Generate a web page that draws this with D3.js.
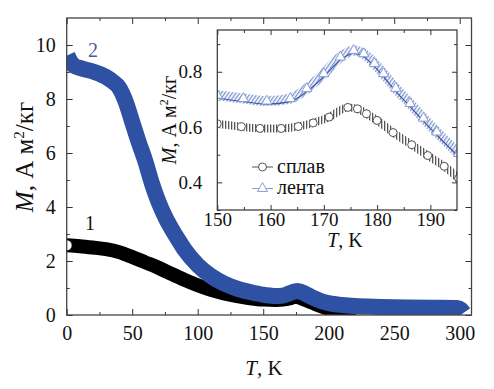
<!DOCTYPE html>
<html>
<head>
<meta charset="utf-8">
<script src="https://cdn.jsdelivr.net/npm/d3@7/dist/d3.min.js"></script>
<style>
  html, body { margin: 0; padding: 0; background: #fff; }
  svg { display: block; font-family: "Liberation Serif", "Times New Roman", serif; }
  .axis line { stroke: #333; stroke-width: 1; }
</style>
</head>
<body>
<svg id="chart" width="494" height="389"></svg>
<script>
// main plot: curve 1 (alloy, black) and curve 2 (ribbon, blue)
const mainT1 = [0, 10, 20, 30, 40, 50, 60, 70, 80, 90, 100, 110, 120, 130, 140, 150, 160, 165, 170, 174, 176, 180, 185, 190, 195, 200, 205, 210, 216];
const mainM1 = [2.58, 2.55, 2.5, 2.44, 2.33, 2.15, 1.95, 1.75, 1.52, 1.3, 1.1, 0.93, 0.8, 0.7, 0.62, 0.57, 0.56, 0.57, 0.61, 0.67, 0.66, 0.6, 0.5, 0.4, 0.31, 0.23, 0.16, 0.1, 0.06];

const mainT2 = [0.5, 3, 6, 10, 20, 30, 35, 40, 45, 50, 55, 60, 65, 70, 75, 80, 85, 90, 100, 110, 120, 130, 140, 150, 155, 160, 165, 170, 174, 176, 178, 182, 186, 190, 195, 200, 210, 220, 240, 260, 280, 298, 301, 303];
const mainM2 = [9.62, 9.38, 9.22, 9.15, 9.02, 8.82, 8.65, 8.42, 7.9, 7.15, 6.4, 5.7, 4.88, 4.2, 3.65, 3.2, 2.8, 2.42, 1.85, 1.45, 1.17, 0.98, 0.85, 0.75, 0.72, 0.7, 0.72, 0.8, 0.87, 0.89, 0.87, 0.79, 0.69, 0.6, 0.5, 0.44, 0.37, 0.33, 0.3, 0.28, 0.27, 0.26, 0.2, 0.08];

// inset, 150-195 K
const insetT1 = [150, 154.5, 158, 162, 165.2, 168, 171, 174.5, 176.3, 178, 180, 183, 186.5, 189.5, 192.6, 195.3];
const insetM1 = [0.612, 0.601, 0.595, 0.595, 0.602, 0.615, 0.636, 0.671, 0.666, 0.648, 0.624, 0.58, 0.536, 0.497, 0.458, 0.414];

const insetT2 = [150, 154.9, 159.3, 163.7, 166.8, 170, 173.1, 175.6, 177.5, 179.5, 181.2, 183.5, 186.2, 188.7, 191.2, 195.3];
const insetM2 = [0.715, 0.703, 0.694, 0.703, 0.739, 0.793, 0.853, 0.877, 0.865, 0.83, 0.793, 0.74, 0.685, 0.632, 0.582, 0.504];

const mainXTicks = [0, 50, 100, 150, 200, 250, 300];
const mainXMinor = [25, 75, 125, 175, 225, 275];
const mainYTicks = [0, 2, 4, 6, 8, 10];
const mainYMinor = [1, 3, 5, 7, 9];
const insetXTicks = [150, 160, 170, 180, 190];
const insetXMinor = [155, 165, 175, 185];
const insetYTicks = [0.4, 0.6, 0.8];
const insetYMinor = [0.3, 0.5, 0.7, 0.9];

const legendLabels = ['сплав', 'лента'];

const serif = '"Liberation Serif", "Times New Roman", serif';
const blue = '#2e51a4';
const svg = d3.select('#chart');
const defs = svg.append('defs');

// ---------- main plot ----------
const M = { left: 66.7, right: 471.5, top: 18, bottom: 315 };
const x = d3.scaleLinear().domain([0, 309]).range([M.left, M.right]);
const y = d3.scaleLinear().domain([0, 11]).range([M.bottom, M.top]);

defs.append('clipPath').attr('id', 'clipMain')
    .append('rect')
    .attr('x', M.left).attr('y', M.top)
    .attr('width', M.right - M.left).attr('height', M.bottom - M.top);

function addAxis(g, axis, size) {
    g.attr('class', 'axis').call(axis);
    g.attr('font-family', serif).attr('font-size', size || 10);
    g.selectAll('path.domain').remove();
    g.selectAll('text')
        .style('font-family', serif)
        .style('font-size', (size || 10) + 'px')
        .attr('fill', '#111');
    return g;
}

// ticks (inward)
addAxis(svg.append('g').attr('transform', `translate(0,${M.bottom})`),
    d3.axisBottom(x).tickValues(mainXTicks).tickSize(-6).tickSizeOuter(0).tickPadding(11), 20);
addAxis(svg.append('g').attr('transform', `translate(0,${M.bottom})`),
    d3.axisBottom(x).tickValues(mainXMinor).tickSize(-3).tickFormat(''));
addAxis(svg.append('g').attr('transform', `translate(0,${M.top})`),
    d3.axisTop(x).tickValues(mainXTicks).tickSize(-6).tickFormat(''));
addAxis(svg.append('g').attr('transform', `translate(0,${M.top})`),
    d3.axisTop(x).tickValues(mainXMinor).tickSize(-3).tickFormat(''));
addAxis(svg.append('g').attr('transform', `translate(${M.left},0)`),
    d3.axisLeft(y).tickValues(mainYTicks).tickSize(-6).tickPadding(11), 20);
addAxis(svg.append('g').attr('transform', `translate(${M.left},0)`),
    d3.axisLeft(y).tickValues(mainYMinor).tickSize(-3).tickFormat(''));
addAxis(svg.append('g').attr('transform', `translate(${M.right},0)`),
    d3.axisRight(y).tickValues(mainYTicks).tickSize(-6).tickFormat(''));
addAxis(svg.append('g').attr('transform', `translate(${M.right},0)`),
    d3.axisRight(y).tickValues(mainYMinor).tickSize(-3).tickFormat(''));

const mainG = svg.append('g').attr('clip-path', 'url(#clipMain)');
const lineMain = d3.line().curve(d3.curveMonotoneX);

// curve 1: dense black circles -> thick black band
const pts1 = mainT1.map((t, i) => [x(t), y(mainM1[i])]);
mainG.append('path')
    .attr('d', lineMain(pts1))
    .attr('fill', 'none')
    .attr('stroke', '#000')
    .attr('stroke-width', 14)
    .attr('stroke-linecap', 'round');
mainG.append('circle')
    .attr('cx', pts1[0][0]).attr('cy', pts1[0][1]).attr('r', 5.5)
    .attr('fill', '#fff').attr('stroke', '#000').attr('stroke-width', 1);

// curve 2: dense blue triangles -> thick blue band
const pts2 = mainT2.map((t, i) => [x(t), y(mainM2[i])]);
mainG.append('path')
    .attr('d', lineMain(pts2))
    .attr('fill', 'none')
    .attr('stroke', blue)
    .attr('stroke-width', 16)
    .attr('stroke-linecap', 'butt')
    .attr('stroke-linejoin', 'round');

// frame
svg.append('rect')
    .attr('x', M.left).attr('y', M.top)
    .attr('width', M.right - M.left).attr('height', M.bottom - M.top)
    .attr('fill', 'none').attr('stroke', '#444').attr('stroke-width', 1.3);

// curve labels
svg.append('text').attr('x', 90).attr('y', 230).attr('text-anchor', 'middle')
    .style('font-size', '20px').attr('fill', '#111').text('1');
svg.append('text').attr('x', 93).attr('y', 57).attr('text-anchor', 'middle')
    .style('font-size', '20px').attr('fill', '#4a5a9c').text('2');

// axis titles
const xTitle = svg.append('text').attr('x', 264).attr('y', 375)
    .attr('text-anchor', 'middle').style('font-size', '21px').attr('fill', '#111');
xTitle.append('tspan').style('font-style', 'italic').text('T');
xTitle.append('tspan').text(', K');

function yTitle(cx, cy, size) {
    const t = svg.append('text')
        .attr('transform', `translate(${cx},${cy}) rotate(-90)`)
        .attr('text-anchor', 'middle').style('font-size', size + 'px').attr('fill', '#111');
    t.append('tspan').style('font-style', 'italic').text('M');
    t.append('tspan').text(', А м');
    t.append('tspan').attr('dy', -size * 0.38).style('font-size', (size * 0.6) + 'px').text('2');
    t.append('tspan').attr('dy', size * 0.38).text('/кг');
}
yTitle(33, 157, 25);

// ---------- inset ----------
const I = { left: 217.3, right: 457, top: 30, bottom: 210 };
const xi = d3.scaleLinear().domain([150, 195]).range([I.left, I.right]);
const yi = d3.scaleLinear().domain([0.3, 0.951]).range([I.bottom, I.top]);

svg.append('rect')
    .attr('x', I.left).attr('y', I.top)
    .attr('width', I.right - I.left).attr('height', I.bottom - I.top)
    .attr('fill', '#fff');

defs.append('clipPath').attr('id', 'clipInset')
    .append('rect')
    .attr('x', I.left).attr('y', I.top)
    .attr('width', I.right - I.left).attr('height', I.bottom - I.top);

// hatch patterns imitate the densely overlapping open symbols
const hatchK = defs.append('pattern').attr('id', 'hatchK')
    .attr('patternUnits', 'userSpaceOnUse').attr('width', 3).attr('height', 3);
hatchK.append('rect').attr('width', 3).attr('height', 3).attr('fill', '#fff');
hatchK.append('rect').attr('width', 1.3).attr('height', 3).attr('fill', '#555');

const hatchB = defs.append('pattern').attr('id', 'hatchB')
    .attr('patternUnits', 'userSpaceOnUse').attr('width', 3).attr('height', 3)
    .attr('patternTransform', 'rotate(35)');
hatchB.append('rect').attr('width', 3).attr('height', 3).attr('fill', '#fff');
hatchB.append('rect').attr('width', 1.3).attr('height', 3).attr('fill', '#7d93cf');

addAxis(svg.append('g').attr('transform', `translate(0,${I.bottom})`),
    d3.axisBottom(xi).tickValues(insetXTicks).tickSize(-5).tickPadding(2), 19);
addAxis(svg.append('g').attr('transform', `translate(0,${I.bottom})`),
    d3.axisBottom(xi).tickValues(insetXMinor).tickSize(-3).tickFormat(''));
addAxis(svg.append('g').attr('transform', `translate(0,${I.top})`),
    d3.axisTop(xi).tickValues(insetXTicks).tickSize(-5).tickFormat(''));
addAxis(svg.append('g').attr('transform', `translate(0,${I.top})`),
    d3.axisTop(xi).tickValues(insetXMinor).tickSize(-3).tickFormat(''));
addAxis(svg.append('g').attr('transform', `translate(${I.left},0)`),
    d3.axisLeft(yi).tickValues(insetYTicks).tickSize(-5).tickPadding(15).tickFormat(d3.format('.1f')), 19);
addAxis(svg.append('g').attr('transform', `translate(${I.left},0)`),
    d3.axisLeft(yi).tickValues(insetYMinor).tickSize(-3).tickFormat(''));
addAxis(svg.append('g').attr('transform', `translate(${I.right},0)`),
    d3.axisRight(yi).tickValues(insetYTicks).tickSize(-5).tickFormat(''));
addAxis(svg.append('g').attr('transform', `translate(${I.right},0)`),
    d3.axisRight(yi).tickValues(insetYMinor).tickSize(-3).tickFormat(''));

const insetG = svg.append('g').attr('clip-path', 'url(#clipInset)');
const lineI = d3.line().curve(d3.curveMonotoneX);

// ribbon (blue triangles)
const ipts2 = insetT2.map((t, i) => [xi(t), yi(insetM2[i])]);
insetG.append('path').attr('d', lineI(ipts2))
    .attr('fill', 'none').attr('stroke', 'url(#hatchB)').attr('stroke-width', 10);
insetG.append('path').attr('d', lineI(ipts2.map(p => [p[0], p[1] + 3])))
    .attr('fill', 'none').attr('stroke', '#3d58a8').attr('stroke-width', 1.2);
const tri = d3.symbol().type(d3.symbolTriangle).size(45);
insetG.selectAll('path.tri').data(ipts2).join('path')
    .attr('class', 'tri')
    .attr('transform', d => `translate(${d[0]},${d[1]})`)
    .attr('d', tri)
    .attr('fill', '#fff').attr('stroke', '#8a9ed6').attr('stroke-width', 1);

// alloy (black circles)
const ipts1 = insetT1.map((t, i) => [xi(t), yi(insetM1[i])]);
insetG.append('path').attr('d', lineI(ipts1))
    .attr('fill', 'none').attr('stroke', 'url(#hatchK)').attr('stroke-width', 8);
insetG.selectAll('circle.c').data(ipts1).join('circle')
    .attr('class', 'c')
    .attr('cx', d => d[0]).attr('cy', d => d[1]).attr('r', 4)
    .attr('fill', '#fff').attr('stroke', '#555').attr('stroke-width', 1);

svg.append('rect')
    .attr('x', I.left).attr('y', I.top)
    .attr('width', I.right - I.left).attr('height', I.bottom - I.top)
    .attr('fill', 'none').attr('stroke', '#333').attr('stroke-width', 1.2);

// legend
const legG = svg.append('g');
legendLabels.forEach((lab, i) => {
    const ly = 167 + i * 21.5;
    legG.append('line').attr('x1', 252).attr('x2', 273).attr('y1', ly).attr('y2', ly)
        .attr('stroke', i === 0 ? '#555' : '#8a9ed6').attr('stroke-width', 1);
    if (i === 0) {
        legG.append('circle').attr('cx', 262.5).attr('cy', ly).attr('r', 4)
            .attr('fill', '#fff').attr('stroke', '#555');
    } else {
        legG.append('path').attr('transform', `translate(262.5,${ly})`).attr('d', tri)
            .attr('fill', '#fff').attr('stroke', '#8a9ed6');
    }
    legG.append('text').attr('x', 277).attr('y', ly + 5.5)
        .style('font-size', '20px').attr('fill', '#111').text(lab);
});

const xiTitle = svg.append('text').attr('x', 345).attr('y', 247)
    .attr('text-anchor', 'middle').style('font-size', '20px').attr('fill', '#111');
xiTitle.append('tspan').style('font-style', 'italic').text('T');
xiTitle.append('tspan').text(', K');

yTitle(176, 120, 20);
</script>
</body>
</html>
